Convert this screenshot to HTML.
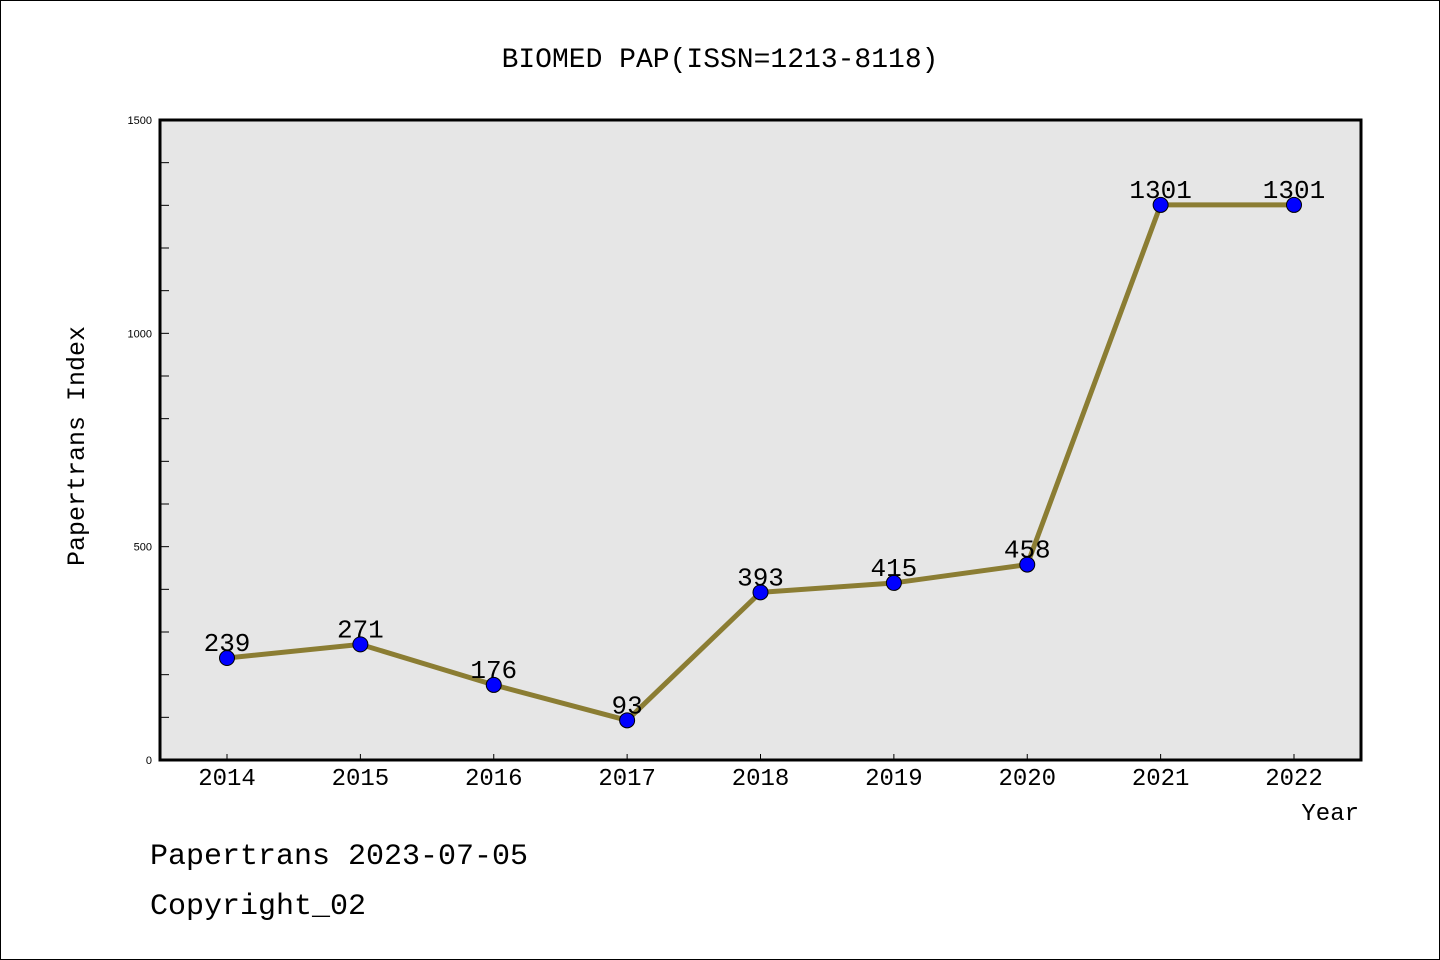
<!DOCTYPE html>
<html><head><meta charset="utf-8"><style>
body{margin:0;background:#fff}
svg{display:block;font-family:"Liberation Mono","WenQuanYi Zen Hei",monospace}
</style></head><body>
<svg width="1440" height="960">
<rect x="0.5" y="0.5" width="1439" height="959" fill="#fff" stroke="#000"/>
<text x="720" y="67" font-size="28" text-anchor="middle">BIOMED PAP(ISSN=1213-8118)</text>
<rect x="160" y="120" width="1201" height="640" fill="#e6e6e6"/>
<g id="ticks"></g>
<polyline id="line" fill="none" stroke="#8b7d33" stroke-width="5"/>
<g id="marks"></g>
<rect x="160" y="120" width="1201" height="640" fill="none" stroke="#000" stroke-width="3"/>
<text x="84" y="446" font-size="25" text-anchor="middle" transform="rotate(-90 84 446)">Papertrans Index</text>
<text x="1359" y="820" font-size="24" text-anchor="end">Year</text>
<text x="150" y="864" font-size="30">Papertrans 2023-07-05</text>
<text x="150" y="914" font-size="30">Copyright_02</text>
</svg>
<script>
const years=["2014","2015","2016","2017","2018","2019","2020","2021","2022"];
const values=[239,271,176,93,393,415,458,1301,1301];
const yTicks=[0,500,1000,1500];
const NS="http://www.w3.org/2000/svg";
const xs=i=>227+i*(1294-227)/(years.length-1);
const ys=v=>760-v*640/1500;
function mk(t,a,p){const e=document.createElementNS(NS,t);for(const k in a)e.setAttribute(k,a[k]);p.appendChild(e);return e;}
const tg=document.getElementById("ticks");
for(let v=100;v<1500;v+=100){const l=mk("line",{x1:160,x2:169,y1:ys(v),y2:ys(v),stroke:"#000","stroke-width":1},tg);

}
yTicks.forEach(v=>{const t=mk("text",{x:152,y:ys(v)+4,"font-size":11,"text-anchor":"end","font-family":"Liberation Sans, sans-serif"},tg);t.textContent=v;

});
years.forEach((y,i)=>{const l=mk("line",{x1:xs(i),x2:xs(i),y1:760,y2:754,stroke:"#000"},tg);


const t=mk("text",{x:xs(i),y:785,"font-size":24,"text-anchor":"middle"},tg);t.textContent=y;

});
document.getElementById("line").setAttribute("points",values.map((v,i)=>xs(i)+","+ys(v)).join(" "));
const mg=document.getElementById("marks");
values.forEach((v,i)=>{const c=mk("circle",{cx:xs(i),cy:ys(v),r:7.5,fill:"#0000ff",stroke:"#000","stroke-width":1},mg);


const t=mk("text",{x:xs(i),y:ys(v)-7,"font-size":26,"text-anchor":"middle"},mg);t.textContent=v;

});
</script>
</body></html>
